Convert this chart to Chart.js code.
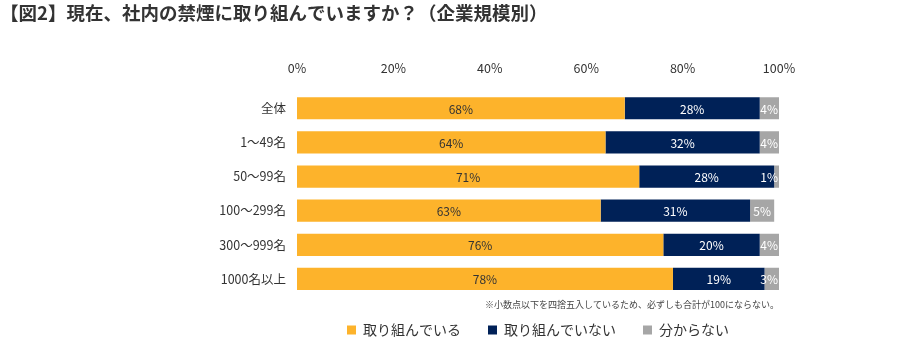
<!DOCTYPE html>
<html>
<head>
<meta charset="utf-8">
<script src="https://cdn.jsdelivr.net/npm/chart.js@4/dist/chart.umd.min.js"></script>
<style>
html, body { margin: 0; padding: 0; background: #fff; }
#wrap { width: 913px; height: 347px; }
</style>
</head>
<body>
<div id="wrap"><canvas id="smokeChart" width="913" height="347"></canvas></div>
<script>
// ===== Data =====

const categories = ["全体", "1～49名", "50～99名", "100～299名", "300～999名", "1000名以上"];

const doing = [68, 64, 71, 63, 76, 78];
const notDoing = [28, 32, 28, 31, 20, 19];
const unknown = [4, 4, 1, 5, 4, 3];

const seriesNames = ["取り組んでいる", "取り組んでいない", "分からない"];
const tickValues = [0, 20, 40, 60, 80, 100];

const noteText = "※小数点以下を四捨五入しているため、必ずしも合計が100にならない。";

const FONT = "'Noto Sans CJK JP', 'Noto Sans', sans-serif";

// ===== Value labels inside the bars + footnote =====

const barLabels = {
    id: "barLabels",
    afterDatasetsDraw(chart) {
        const ctx = chart.ctx;
        const area = chart.chartArea;
        ctx.save();
        ctx.font = "12px " + FONT;
        ctx.textAlign = "center";
        ctx.textBaseline = "middle";
        chart.data.datasets.forEach((ds, i) => {
            const meta = chart.getDatasetMeta(i);
            meta.data.forEach((bar, j) => {
                const txt = ds.data[j] + "%";
                const w = ctx.measureText(txt).width;
                let cx = (bar.x + bar.base) / 2;
                cx = Math.min(cx, area.right - w / 2 - 1);
                ctx.fillStyle = i === 0 ? "#333333" : "#ffffff";
                ctx.fillText(txt, cx, bar.y + 1);
            });
        });

        // footnote under the bars
        ctx.font = "9px " + FONT;
        ctx.textAlign = "right";
        ctx.fillStyle = "#444444";
        ctx.fillText(noteText, area.right, area.bottom + 9);
        ctx.restore();
    }
};

// ===== Chart =====

new Chart(document.getElementById("smokeChart"), {
    type: "bar",
    data: {
        labels: categories,
        datasets: [
            { label: seriesNames[0], data: doing, backgroundColor: "#FDB32B" },
            { label: seriesNames[1], data: notDoing, backgroundColor: "#002157" },
            { label: seriesNames[2], data: unknown, backgroundColor: "#A6A6A6" }
        ]
    },
    options: {
        indexAxis: "y",
        responsive: false,
        animation: false,
        datasets: {
            bar: { barPercentage: 0.65, categoryPercentage: 1 }
        },
        layout: {
            padding: { left: 0, right: 134, top: 2, bottom: 0 }
        },
        scales: {
            x: {
                position: "top",
                stacked: true,
                min: 0,
                max: 100,
                afterBuildTicks: (scale) => {
                    scale.ticks = tickValues.map(v => ({ value: v }));
                },
                grid: { display: false, drawTicks: false },
                border: { display: false },
                ticks: {
                    color: "#333333",
                    padding: 15,
                    font: { family: FONT, size: 12.5 },
                    callback: (v) => v + "%"
                }
            },
            y: {
                stacked: true,
                grid: { display: false, drawTicks: false },
                border: { display: false },
                afterFit: (scale) => { scale.width = 297; },
                ticks: {
                    color: "#333333",
                    padding: 11,
                    autoSkip: false,
                    font: { family: FONT, size: 12.5 }
                }
            }
        },
        plugins: {
            tooltip: { enabled: false },
            title: {
                display: true,
                text: "【図2】現在、社内の禁煙に取り組んでいますか？（企業規模別）",
                align: "start",
                color: "#333333",
                font: { family: FONT, size: 18.5, weight: "bold" },
                padding: { top: 0, bottom: 22 }
            },
            legend: {
                position: "bottom",
                fullSize: false,
                labels: {
                    color: "#333333",
                    boxWidth: 9,
                    boxHeight: 9,
                    padding: 27,
                    font: { family: FONT, size: 14 }
                }
            }
        }
    },
    plugins: [barLabels]
});
</script>
</body>
</html>
